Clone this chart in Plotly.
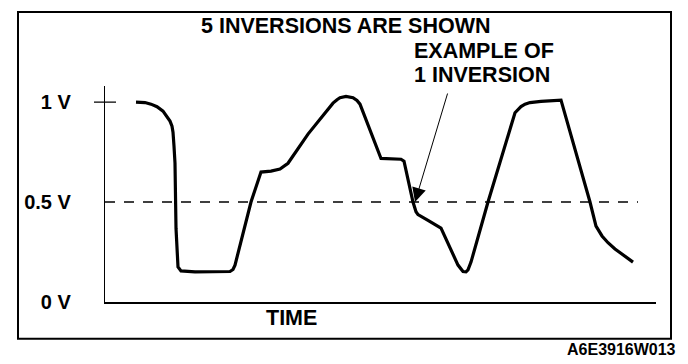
import plotly.graph_objects as go

# time in arbitrary units, voltage in volts
time = [31, 40, 46, 52, 58, 62, 65, 67, 68, 69, 70, 71, 73, 76, 90, 125, 128, 130,
        146, 156, 166, 175, 183, 203, 228, 232, 235, 241, 248, 252, 255, 276, 296,
        299, 308, 311, 313, 323, 336, 353, 356, 358, 361, 363, 366, 383, 410, 413,
        416, 420, 425, 436, 456, 485, 488, 491, 497, 503, 510, 516, 522, 528]
volts = [1.0, 0.998, 0.99, 0.977, 0.955, 0.93, 0.905, 0.88, 0.85, 0.78, 0.694,
         0.369, 0.175, 0.155, 0.150, 0.152, 0.162, 0.184, 0.5, 0.650, 0.655, 0.665,
         0.694, 0.840, 0.995, 1.012, 1.022, 1.029, 1.022, 1.008, 0.99, 0.718, 0.714,
         0.704, 0.5, 0.451, 0.437, 0.408, 0.369, 0.184, 0.162, 0.152, 0.150, 0.16,
         0.199, 0.5, 0.947, 0.965, 0.978, 0.99, 0.998, 1.004, 1.01, 0.5, 0.43, 0.379,
         0.33, 0.296, 0.265, 0.243, 0.22, 0.199]

threshold = 0.5
threshold_span = [0, 533]
tick_vals = [0, 0.5, 1]
tick_text = ["0 V", "0.5 V", "1 V"]
arrow_tip = (310, 0.5)

W, H = 688, 364
FONT = "Liberation Sans, Arial, sans-serif"

fig = go.Figure()
fig.add_trace(go.Scatter(x=threshold_span, y=[threshold, threshold], mode="lines",
                         line=dict(color="black", width=1.4, dash="10px,9px"),
                         hoverinfo="skip", showlegend=False))
fig.add_trace(go.Scatter(x=time, y=volts, mode="lines",
                         line=dict(color="black", width=3.2),
                         showlegend=False))

def px(x):
    return x / W

def py(y):
    return 1 - y / H

fig.update_layout(
    width=W, height=H,
    margin=dict(l=0, r=0, t=0, b=0),
    paper_bgcolor="white", plot_bgcolor="white",
    xaxis=dict(domain=[px(97), px(648)], range=[0, 551], showgrid=False,
               zeroline=False, showticklabels=False, ticks="",
               showline=True, linecolor="black", linewidth=1.6),
    yaxis=dict(domain=[py(303), py(80)], range=[0, 1.083], showgrid=False,
               zeroline=False, tickvals=tick_vals, ticktext=tick_text, ticks="",
               ticklabelstandoff=29,
               tickfont=dict(family=FONT, size=20, color="black", weight="bold"),
               showline=True, linecolor="black", linewidth=1.2),
    font=dict(family=FONT, color="black"),
)

# tick mark at 1 V
fig.add_shape(type="line", xref="x domain", yref="y", x0=-0.02, x1=0.02,
              y0=1, y1=1, line=dict(color="black", width=1.4))
# outer frame
fig.add_shape(type="rect", xref="paper", yref="paper",
              x0=px(10), x1=px(663), y0=py(341), y1=py(4),
              line=dict(color="black", width=2))

big = dict(size=21.5, weight="bold")
fig.add_annotation(text="5 INVERSIONS ARE SHOWN", xref="paper", yref="paper",
                   x=px(191), y=py(19), xanchor="left", yanchor="middle",
                   showarrow=False, font=big)
fig.add_annotation(text="EXAMPLE OF", xref="paper", yref="paper",
                   x=px(404), y=py(44), xanchor="left", yanchor="middle",
                   showarrow=False, font=big)
fig.add_annotation(text="1 INVERSION", xref="paper", yref="paper",
                   x=px(404), y=py(69), xanchor="left", yanchor="middle",
                   showarrow=False, font=big)
fig.add_annotation(text="TIME", xref="paper", yref="paper",
                   x=px(256), y=py(320), xanchor="left", yanchor="middle",
                   showarrow=False, font=big)
fig.add_annotation(text="A6E3916W013", xref="paper", yref="paper",
                   x=px(670), y=py(352), xanchor="right", yanchor="middle",
                   showarrow=False,
                   font=dict(family=FONT, size=16, weight="bold"))
fig.add_annotation(x=arrow_tip[0], y=arrow_tip[1], xref="x", yref="y",
                   ax=33, ay=-110, axref="pixel", ayref="pixel", text="",
                   showarrow=True, arrowhead=2, arrowsize=2.8, arrowwidth=1,
                   arrowcolor="black", standoff=0)

fig.write_html("out.html")
